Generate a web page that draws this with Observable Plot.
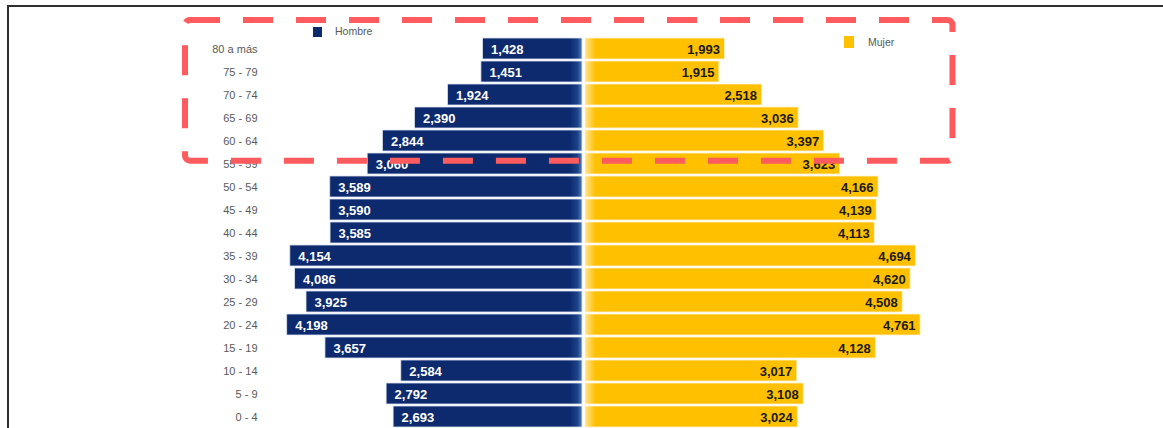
<!DOCTYPE html>
<html>
<head>
<meta charset="utf-8">
<script src="https://cdn.jsdelivr.net/npm/d3@7"></script>
<script src="https://cdn.jsdelivr.net/npm/@observablehq/plot@0.6"></script>
<style>
  html, body { margin: 0; padding: 0; background: #fff; }
  #wrap { position: relative; width: 1163px; height: 428px; overflow: hidden;
          font-family: "Liberation Sans", Arial, sans-serif; }
  #wrap svg { position: absolute; left: 0; top: 0; }
  .fr { position: absolute; background: #2f2f2f; }
  .sw { position: absolute; }
  .lt { position: absolute; font-size: 10.5px; line-height: 14px; color: #595959; white-space: nowrap; }
</style>
</head>
<body>
<div id="wrap">
  <div class="fr" style="left:7px;top:5px;width:1156px;height:2px;"></div>
  <div class="fr" style="left:7px;top:5px;width:2px;height:423px;"></div>
</div>
<script>
// ---- data ----
const ageGroups = ["80 a más","75 - 79","70 - 74","65 - 69","60 - 64","55 - 59","50 - 54","45 - 49","40 - 44","35 - 39","30 - 34","25 - 29","20 - 24","15 - 19","10 - 14","5 - 9","0 - 4"];
const hombres = [1428,1451,1924,2390,2844,3060,3589,3590,3585,4154,4086,3925,4198,3657,2584,2792,2693];
const mujeres = [1993,1915,2518,3036,3397,3623,4166,4139,4113,4694,4620,4508,4761,4128,3017,3108,3024];
const seriesNames = ["Hombre", "Mujer"];
// highlighted region (annotation)
const highlightFrom = "80 a más";
const highlightTo = "60 - 64";

const colorH = "#0d2a6e";
const colorM = "#ffc000";

const table = ageGroups.map((g, i) => ({grupo: g, hombre: hombres[i], mujer: mujeres[i]}));
const fmt = d3.format(",");

const chart = Plot.plot({
  width: 1163,
  height: 428,
  marginLeft: 260,
  marginRight: 0,
  marginTop: 37,
  marginBottom: 0,
  style: {background: "transparent", fontFamily: "\"Liberation Sans\", Arial, sans-serif", overflow: "visible"},
  x: {domain: [-6000, 6000], range: [583.5 - 6000 * 0.0707, 583.5 + 6000 * 0.0707], axis: null},
  y: {domain: ageGroups, paddingInner: 0.1, paddingOuter: 0.05, label: null},
  marks: [
    Plot.barX(table, {y: "grupo", x1: 0, x2: d => -d.hombre, fill: "url(#gradH)", stroke: "#dbe3f0", strokeWidth: 0.8, insetRight: 1.5}),
    Plot.barX(table, {y: "grupo", x1: 0, x2: "mujer", fill: "url(#gradM)", stroke: "#fff3cc", strokeWidth: 0.8, insetLeft: 1.5}),
    Plot.text(table, {y: "grupo", x: d => -d.hombre, text: d => fmt(d.hombre), textAnchor: "start", dx: 8, dy: 1, fill: "white", fontWeight: "bold", fontSize: 13}),
    Plot.text(table, {y: "grupo", x: "mujer", text: d => fmt(d.mujer), textAnchor: "end", dx: -5, dy: 1, fill: "#1a1a1a", fontWeight: "bold", fontSize: 13}),
    Plot.axisY({tickSize: 0, tickPadding: 3, fontSize: 11, fill: "#595959", label: null})
  ]
});

const wrap = document.getElementById("wrap");
wrap.insertBefore(chart, wrap.firstChild);

// gradients tied to the x scale
const xs = chart.scale("x"), ys = chart.scale("y");
const x0 = xs.apply(0);
const svg = d3.select(chart);
const defs = svg.insert("defs", ":first-child");
const gH = defs.append("linearGradient").attr("id", "gradH").attr("gradientUnits", "userSpaceOnUse")
  .attr("x1", x0 - 14).attr("x2", x0).attr("y1", 0).attr("y2", 0);
gH.append("stop").attr("offset", "0%").attr("stop-color", colorH);
gH.append("stop").attr("offset", "55%").attr("stop-color", "#1b3f86");
gH.append("stop").attr("offset", "100%").attr("stop-color", "#5b8ed0");
const gM = defs.append("linearGradient").attr("id", "gradM").attr("gradientUnits", "userSpaceOnUse")
  .attr("x1", x0).attr("x2", x0 + 12).attr("y1", 0).attr("y2", 0);
gM.append("stop").attr("offset", "0%").attr("stop-color", "#ffe9a6");
gM.append("stop").attr("offset", "100%").attr("stop-color", colorM);

// dashed highlight annotation
const bw = ys.bandwidth;
const hx1 = xs.apply(-5636), hx2 = xs.apply(5219);
const hy1 = ys.apply(highlightFrom) - 18;
const hy2 = ys.apply(highlightTo) + bw + 9.7;
svg.append("rect")
  .attr("x", hx1).attr("y", hy1).attr("width", hx2 - hx1).attr("height", hy2 - hy1)
  .attr("rx", 5).attr("fill", "none").attr("stroke", "#fe5b5e").attr("stroke-width", 6)
  .attr("stroke-dasharray", "30 23");

// legend
const legend = [
  {name: seriesNames[0], color: colorH, sx: 313, sy: 27, sw: 9, sh: 10, tx: 335, ty: 24},
  {name: seriesNames[1], color: colorM, sx: 844, sy: 36, sw: 10, sh: 12, tx: 868, ty: 35}
];
for (const l of legend) {
  const s = document.createElement("div");
  s.className = "sw";
  s.style.cssText = `left:${l.sx}px;top:${l.sy}px;width:${l.sw}px;height:${l.sh}px;background:${l.color};`;
  wrap.appendChild(s);
  const t = document.createElement("div");
  t.className = "lt";
  t.style.cssText = `left:${l.tx}px;top:${l.ty}px;`;
  t.textContent = l.name;
  wrap.appendChild(t);
}
</script>
</body>
</html>
